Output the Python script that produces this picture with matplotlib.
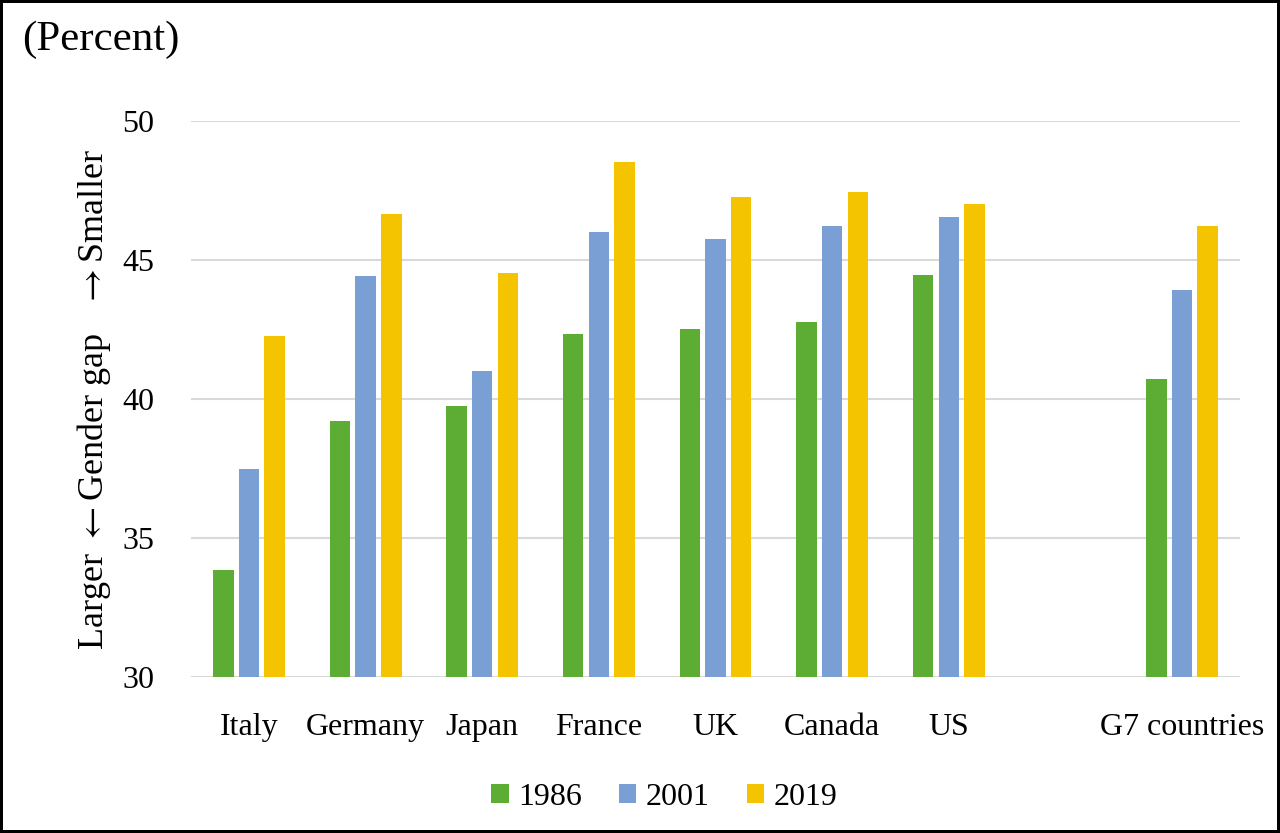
import numpy as np
import matplotlib.pyplot as plt

plt.rcParams['font.family'] = ['Liberation Serif', 'DejaVu Serif']
plt.rcParams['mathtext.fontset'] = 'stix'

# Data
countries = ['Italy', 'Germany', 'Japan', 'France', 'UK', 'Canada', 'US', 'G7 countries']
positions = [0, 1, 2, 3, 4, 5, 6, 8]
years = ['1986', '2001', '2019']
v1986 = [33.85, 39.21, 39.75, 42.34, 42.52, 42.77, 44.45, 40.72]
v2001 = [37.48, 44.42, 41.00, 46.00, 45.76, 46.22, 46.55, 43.92]
v2019 = [42.27, 46.65, 44.53, 48.53, 47.27, 47.45, 47.01, 46.22]
colors = ['#5DAD35', '#7A9FD4', '#F5C400']

fig = plt.figure(figsize=(12.8, 8.33), dpi=100)
fig.patch.set_edgecolor('black')
fig.patch.set_linewidth(3)
ax = fig.add_axes([0.149, 0.187, 0.82, 0.668])

x = np.array(positions, dtype=float)
width = 0.175
step = 0.22
for i, (vals, lab) in enumerate(zip([v1986, v2001, v2019], years)):
    ax.bar(x + (i - 1) * step, vals, width, color=colors[i], label=lab, zorder=3)

ax.set_ylim(30, 50)
ax.set_xlim(-0.5, 8.5)
ax.set_yticks([30, 35, 40, 45, 50])
ax.yaxis.grid(True, color='#D9D9D9', linewidth=1.5, zorder=0)
for s in ax.spines.values():
    s.set_visible(False)
ax.tick_params(axis='both', length=0, labelsize=23)
ax.tick_params(axis='y', pad=26)
ax.tick_params(axis='x', pad=26)
ax.set_xticks(positions)
ax.set_xticklabels(countries)

ax.set_ylabel('Larger $\\leftarrow$Gender gap   $\\rightarrow$Smaller', fontsize=26)
ax.yaxis.set_label_coords(-0.074, 0.5)
fig.text(0.017, 0.952, '(Percent)', fontsize=31, va='center', ha='left')

fig.legend(loc='center', bbox_to_anchor=(0.519, 0.043), ncol=3, frameon=False,
           fontsize=23, handlelength=0.55, handleheight=0.55, handletextpad=0.3,
           columnspacing=1.15)

fig.savefig('out.png', dpi=100, edgecolor=fig.get_edgecolor())
